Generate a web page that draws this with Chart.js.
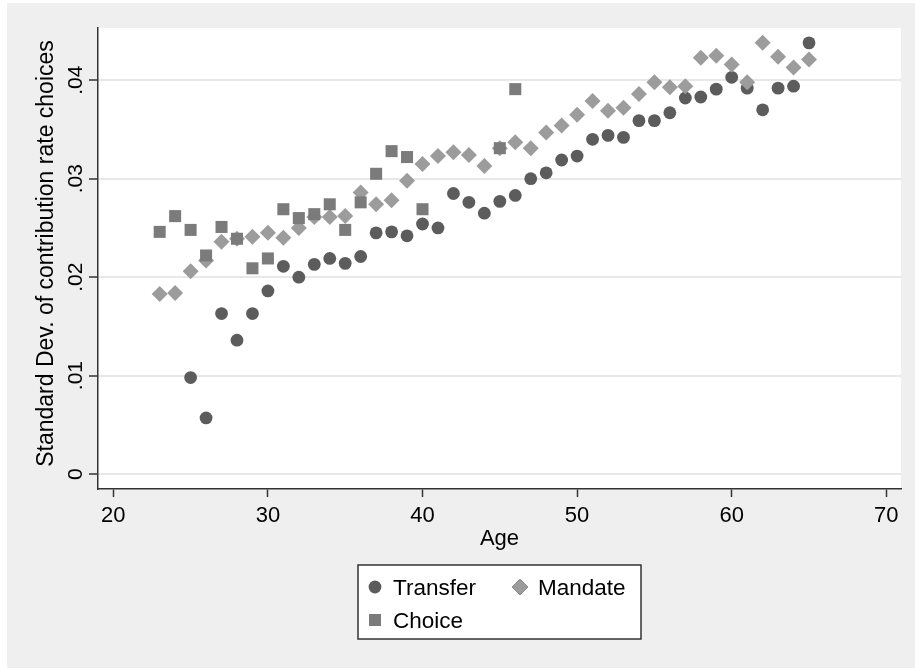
<!DOCTYPE html>
<html>
<head>
<meta charset="utf-8">
<script src="https://cdn.jsdelivr.net/npm/chart.js@4.4.1/dist/chart.umd.min.js"></script>
<style>
  html, body { margin: 0; padding: 0; background: #fff; }
  canvas { display: block; }
</style>
</head>
<body>
<canvas id="sdChart" width="915" height="669"></canvas>
<script>
// ages and standard deviations
const transferAges = [25, 26, 27, 28, 29, 30, 31, 32, 33, 34, 35, 36, 37, 38, 39, 40, 41, 42, 43, 44, 45,
  46, 47, 48, 49, 50, 51, 52, 53, 54, 55, 56, 57, 58, 59, 60, 61, 62, 63, 64, 65];
const transferSD = [.0098, .0057, .0163, .0136, .0163, .0186, .0211, .0200, .0213, .0219, .0214, .0221,
  .0245, .0246, .0242, .0254, .0250, .0285, .0276, .0265, .0277, .0283, .0300, .0306, .0319, .0323,
  .0340, .0344, .0342, .0359, .0359, .0367, .0382, .0383, .0391, .0403, .0392, .0370, .0392, .0394, .0438];

const mandateAges = [23, 24, 25, 26, 27, 28, 29, 30, 31, 32, 33, 34, 35, 36, 37, 38, 39, 40, 41, 42, 43, 44,
  45, 46, 47, 48, 49, 50, 51, 52, 53, 54, 55, 56, 57, 58, 59, 60, 61, 62, 63, 64, 65];
const mandateSD = [.0183, .0184, .0206, .0217, .0236, .0239, .0241, .0245, .0240, .0250, .0261, .0261,
  .0262, .0286, .0274, .0278, .0298, .0315, .0323, .0327, .0324, .0313, .0331, .0337, .0331, .0347,
  .0354, .0365, .0379, .0369, .0372, .0386, .0398, .0393, .0394, .0423, .0425, .0416, .0398, .0438,
  .0424, .0413, .0421];

const choiceAges = [23, 24, 25, 26, 27, 28, 29, 30, 31, 32, 33, 34, 35, 36, 37, 38, 39, 40, 45, 46];
const choiceSD = [.0246, .0262, .0248, .0222, .0251, .0239, .0209, .0219, .0269, .0260, .0264, .0274,
  .0248, .0276, .0305, .0328, .0322, .0269, .0331, .0391];

const xTicks = [20, 30, 40, 50, 60, 70];
const yTicks = [0, .01, .02, .03, .04];
const yTickLabels = ["0", ".01", ".02", ".03", ".04"];

const FONT = "Arial, 'Liberation Sans', sans-serif";
const AXIS = "#333";

function toPoints(xs, ys) {
  return xs.map((x, i) => ({ x: x, y: ys[i] }));
}

// stata-ish frame: grey graph region, white plot region
const backdrop = {
  id: "backdrop",
  beforeDraw(chart) {
    const ctx = chart.ctx;
    const a = chart.chartArea;
    ctx.save();
    ctx.fillStyle = "#fff";
    ctx.fillRect(0, 0, chart.width, chart.height);
    ctx.fillStyle = "#efefef";
    ctx.fillRect(7, 3, chart.width - 7, chart.height - 4);
    ctx.fillStyle = "#fff";
    ctx.fillRect(a.left, a.top, a.right - a.left, a.bottom - a.top);
    ctx.restore();
  }
};

// rotated y labels, y title and the boxed legend
const extras = {
  id: "extras",
  afterDraw(chart) {
    const ctx = chart.ctx;
    const y = chart.scales.y;
    ctx.save();
    ctx.fillStyle = "#000";

    ctx.font = "21px " + FONT;
    ctx.textAlign = "center";
    ctx.textBaseline = "alphabetic";
    yTicks.forEach((v, i) => {
      ctx.save();
      ctx.translate(82, y.getPixelForValue(v));
      ctx.rotate(-Math.PI / 2);
      ctx.fillText(yTickLabels[i], 0, 0);
      ctx.restore();
    });

    ctx.font = "23px " + FONT;
    ctx.save();
    ctx.translate(53, 253.5);
    ctx.rotate(-Math.PI / 2);
    ctx.fillText("Standard Dev. of contribution rate choices", 0, 0);
    ctx.restore();

    // legend
    const box = { left: 358, top: 565, right: 641, bottom: 639 };
    ctx.fillStyle = "#fff";
    ctx.fillRect(box.left, box.top, box.right - box.left, box.bottom - box.top);
    ctx.strokeStyle = AXIS;
    ctx.lineWidth = 1.5;
    ctx.strokeRect(box.left, box.top, box.right - box.left, box.bottom - box.top);

    const slots = [[375, 587], [375, 620], [520, 587]];
    const order = [0, 2, 1];
    ctx.font = "22.5px " + FONT;
    ctx.textAlign = "left";
    order.forEach((di, k) => {
      const ds = chart.data.datasets[di];
      const [mx, my] = slots[k];
      Chart.helpers.drawPoint(ctx, {
        pointStyle: ds.pointStyle,
        radius: ds.pointRadius,
        borderWidth: 0
      }, mx, my);
      ctx.fillStyle = ds.backgroundColor;
      ctx.fill();
      ctx.fillStyle = "#000";
      ctx.fillText(ds.label, mx + 18, my + 8);
    });
    ctx.restore();
  }
};

new Chart(document.getElementById("sdChart"), {
  type: "scatter",
  data: {
    datasets: [
      {
        label: "Transfer",
        data: toPoints(transferAges, transferSD),
        pointStyle: "circle",
        pointRadius: 6.4,
        backgroundColor: "#5c5c5c",
        borderWidth: 0,
        order: 3
      },
      {
        label: "Mandate",
        data: toPoints(mandateAges, mandateSD),
        pointStyle: "rectRot",
        pointRadius: 8,
        backgroundColor: "#9c9c9c",
        borderWidth: 0,
        order: 2
      },
      {
        label: "Choice",
        data: toPoints(choiceAges, choiceSD),
        pointStyle: "rect",
        pointRadius: 8.5,
        backgroundColor: "#7b7b7b",
        borderWidth: 0,
        order: 1
      }
    ]
  },
  options: {
    responsive: false,
    animation: false,
    events: [],
    layout: { padding: { left: 0, top: 28, right: 14, bottom: 117 } },
    plugins: {
      legend: { display: false },
      tooltip: { enabled: false }
    },
    scales: {
      x: {
        type: "linear",
        position: "bottom",
        min: 19.01,
        max: 70.95,
        afterBuildTicks: s => { s.ticks = xTicks.map(v => ({ value: v })); },
        afterFit: s => { s.height = 63; },
        ticks: {
          color: "#000",
          font: { family: FONT, size: 22 },
          padding: 6,
          maxRotation: 0
        },
        grid: {
          drawOnChartArea: false,
          tickLength: 8,
          tickColor: AXIS,
          tickWidth: 1.5
        },
        border: { color: AXIS, width: 1.5 },
        title: {
          display: true,
          text: "Age",
          color: "#000",
          font: { family: FONT, size: 22 },
          padding: 0
        }
      },
      y: {
        type: "linear",
        min: -0.00152,
        max: 0.04531,
        afterBuildTicks: s => { s.ticks = yTicks.map(v => ({ value: v })); },
        afterFit: s => { s.width = 98; },
        ticks: { display: false },
        grid: {
          color: "#e8e8e8",
          lineWidth: 2,
          tickLength: 9,
          tickColor: AXIS,
          tickWidth: 1.5
        },
        border: { color: AXIS, width: 1.5 }
      }
    }
  },
  plugins: [backdrop, extras]
});
</script>
</body>
</html>
